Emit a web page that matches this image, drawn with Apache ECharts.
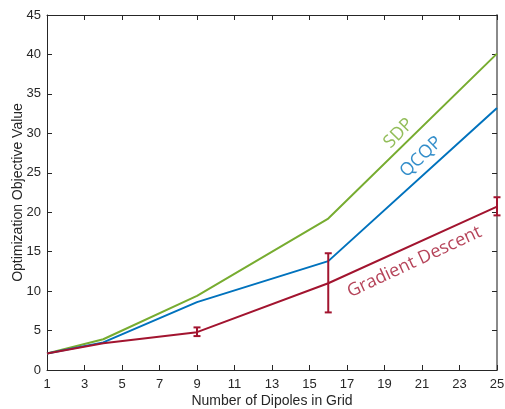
<!DOCTYPE html>
<html>
<head>
<meta charset="utf-8">
<script src="https://cdn.jsdelivr.net/npm/echarts@6/dist/echarts.min.js"></script>
<style>
  html, body { margin: 0; padding: 0; background: #fff; }
  #chart { width: 505px; height: 409px; }
</style>
</head>
<body>
<div id="chart"></div>
<script>
// grid sizes (number of dipoles)
var gridSizes = [1, 4, 9, 16, 25];
var sdpValues = [2.1, 3.9, 9.4, 19.2, 40.1];
var qcqpValues = [2.1, 3.5, 8.6, 13.8, 33.2];
var gdValues = [2.1, 3.4, 4.8, 11.0, 20.7];
// error bars for gradient descent
var gdErrLow = [null, null, 4.3, 7.3, 19.6];
var gdErrHigh = [null, null, 5.4, 14.8, 21.9];
var xTicks = [1, 3, 5, 7, 9, 11, 13, 15, 17, 19, 21, 23, 25];

var SDP_COLOR = "#77ac30";
var QCQP_COLOR = "#0072bd";
var GD_COLOR = "#a2142f";
var AXIS_COLOR = "#262626";

function pairs(vals) {
    return gridSizes.map(function (x, i) { return [x, vals[i]]; });
}

var errData = [];
gridSizes.forEach(function (x, i) {
    if (gdErrLow[i] != null) errData.push([x, gdErrLow[i], gdErrHigh[i]]);
});

var chart = echarts.init(document.getElementById("chart"));

var option = {
    animation: false,
    textStyle: { fontFamily: "Liberation Sans" },
    grid: { left: 47, right: 8, top: 15, bottom: 39, outerBoundsMode: "none", containLabel: false },
    xAxis: [
        {
            type: "value",
            min: 1,
            max: 25,
            name: "Number of Dipoles in Grid",
            nameLocation: "middle",
            nameGap: 24,
            nameMoveOverlap: false,
            nameTextStyle: { color: AXIS_COLOR, fontSize: 14, verticalAlign: "top" },
            axisLine: { show: true, onZero: false, lineStyle: { color: AXIS_COLOR, width: 1 } },
            axisTick: { show: true, inside: true, length: 5, customValues: xTicks, lineStyle: { color: AXIS_COLOR } },
            axisLabel: { customValues: xTicks, color: AXIS_COLOR, fontSize: 13, margin: 8 },
            splitLine: { show: false },
        },
        {
            type: "value",
            position: "top",
            min: 1,
            max: 25,
            axisLine: { show: true, onZero: false, lineStyle: { color: AXIS_COLOR, width: 1 } },
            axisTick: { show: true, inside: true, length: 5, customValues: xTicks, lineStyle: { color: AXIS_COLOR } },
            axisLabel: { show: false, customValues: xTicks },
            splitLine: { show: false },
        },
    ],
    yAxis: [
        {
            type: "value",
            min: 0,
            max: 45,
            interval: 5,
            name: "Optimization Objective Value",
            nameLocation: "middle",
            nameGap: 22,
            nameMoveOverlap: false,
            nameTextStyle: { color: AXIS_COLOR, fontSize: 14 },
            axisLine: { show: true, onZero: false, lineStyle: { color: AXIS_COLOR, width: 1 } },
            axisTick: { show: true, inside: true, length: 5, lineStyle: { color: AXIS_COLOR } },
            axisLabel: { color: AXIS_COLOR, fontSize: 13, margin: 6 },
            splitLine: { show: false },
        },
        {
            type: "value",
            position: "right",
            min: 0,
            max: 45,
            interval: 5,
            axisLine: { show: true, onZero: false, lineStyle: { color: "#8a8a8a", width: 2 } },
            axisTick: { show: true, inside: true, length: 5, lineStyle: { color: AXIS_COLOR } },
            axisLabel: { show: false },
            splitLine: { show: false },
        },
    ],
    series: [
        {
            name: "SDP",
            type: "line",
            data: pairs(sdpValues),
            symbol: "none",
            lineStyle: { color: SDP_COLOR, width: 2 },
            z: 2,
        },
        {
            name: "QCQP",
            type: "line",
            data: pairs(qcqpValues),
            symbol: "none",
            lineStyle: { color: QCQP_COLOR, width: 2 },
            z: 3,
        },
        {
            name: "Gradient Descent",
            type: "line",
            data: pairs(gdValues),
            symbol: "none",
            lineStyle: { color: GD_COLOR, width: 2 },
            z: 4,
        },
        {
            // error bars
            type: "custom",
            data: errData,
            z: 5,
            renderItem: function (params, api) {
                var x = api.value(0);
                var lo = api.coord([x, api.value(1)]);
                var hi = api.coord([x, api.value(2)]);
                var w = 3.5;
                var style = { stroke: GD_COLOR, lineWidth: 2 };
                return {
                    type: "group",
                    children: [
                        { type: "line", shape: { x1: lo[0], y1: lo[1], x2: hi[0], y2: hi[1] }, style: style },
                        { type: "line", shape: { x1: lo[0] - w, y1: lo[1], x2: lo[0] + w, y2: lo[1] }, style: style },
                        { type: "line", shape: { x1: hi[0] - w, y1: hi[1], x2: hi[0] + w, y2: hi[1] }, style: style },
                    ],
                };
            },
        },
        {
            // line annotations
            type: "scatter",
            symbolSize: 0,
            z: 6,
            data: [
                { value: [19.75, 30.0], label: { formatter: "SDP", color: SDP_COLOR, rotate: 46 } },
                { value: [20.95, 27.0], label: { formatter: "QCQP", color: QCQP_COLOR, rotate: 44 } },
                { value: [20.6, 13.7], label: { formatter: "Gradient Descent", color: GD_COLOR, rotate: 25 } },
            ],
            label: {
                show: true,
                position: "inside",
                fontFamily: "Open Sans",
                fontSize: 18,
            },
        },
    ],
};

chart.setOption(option);
</script>
</body>
</html>
